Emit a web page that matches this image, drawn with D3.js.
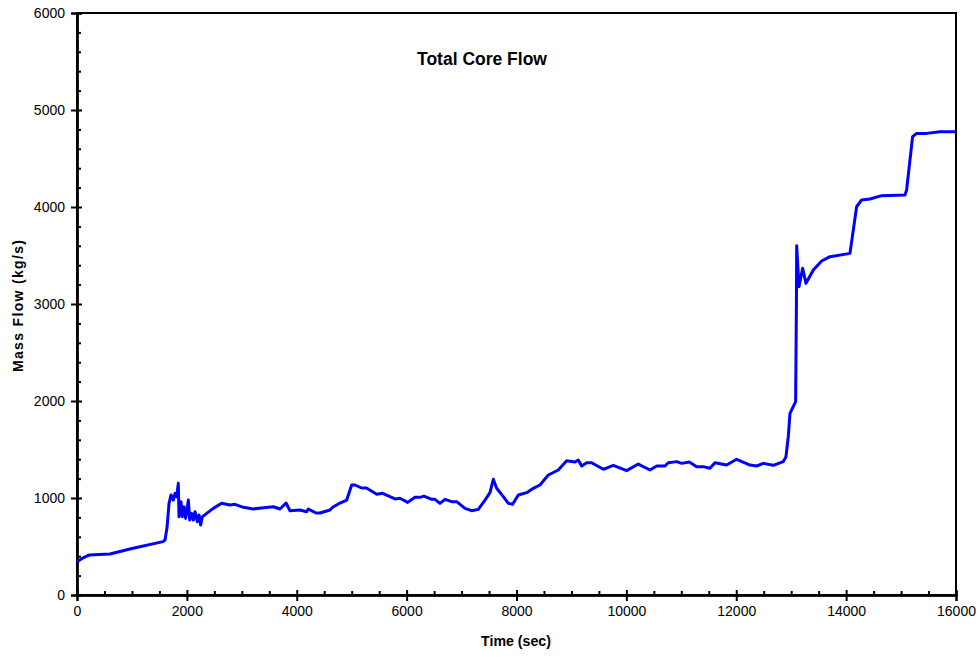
<!DOCTYPE html>
<html>
<head>
<meta charset="utf-8">
<script src="https://cdn.jsdelivr.net/npm/d3@7"></script>
<style>
  html, body { margin: 0; padding: 0; background: #fff; }
  svg { display: block; font-family: "Liberation Sans", Arial, sans-serif; }
</style>
</head>
<body>
<svg id="chart" width="980" height="657"></svg>
<script>
const chartTitle = 'Total Core Flow'
const xTitle = 'Time (sec)'
const yTitle = 'Mass Flow (kg/s)'

const xTicks = [0, 2000, 4000, 6000, 8000, 10000, 12000, 14000, 16000]
const yTicks = [0, 1000, 2000, 3000, 4000, 5000, 6000]

// time (s) and total core mass flow (kg/s)
const timeSec = [
  0, 100, 218, 600, 1000, 1565, 1602, 1640, 1675, 1711, 1753, 1784, 1814, 1844,
  1857, 1893, 1917, 1948, 1978, 2027, 2051, 2087, 2118, 2148, 2190, 2221, 2251,
  2281, 2361, 2481, 2633, 2785, 2876, 3028, 3210, 3400, 3574, 3695, 3805, 3877,
  4059, 4180, 4210, 4350, 4423, 4605, 4660, 4787, 4909, 5000, 5060, 5180, 5270,
  5455, 5564, 5788, 5879, 6019, 6152, 6243, 6316, 6456, 6516, 6607, 6698, 6820,
  6911, 7062, 7184, 7305, 7426, 7517, 7578, 7639, 7760, 7851, 7930, 8033, 8185,
  8306, 8427, 8579, 8761, 8913, 9064, 9125, 9186, 9277, 9368, 9580, 9762, 10005,
  10217, 10430, 10551, 10703, 10763, 10915, 11006, 11145, 11279, 11400, 11521,
  11612, 11825, 12007, 12250, 12371, 12492, 12674, 12856, 12905, 12947, 12978,
  13081, 13095, 13100, 13142, 13209, 13269, 13403, 13554, 13706, 14070, 14191,
  14282, 14434, 14647, 15071, 15101, 15210, 15283, 15465, 15707, 16000
]
const massFlow = [
  343, 380, 412, 423, 480, 550, 567, 700, 945, 1031, 979, 1048, 1014, 1151,
  807, 962, 807, 910, 790, 979, 773, 842, 773, 859, 756, 825, 722,
  807, 842, 893, 945, 928, 935, 904, 887, 900, 910, 887, 948, 869,
  876, 859, 887, 845, 845, 876, 907, 948, 979, 1134, 1134, 1103, 1103,
  1038, 1048, 990, 997, 955, 1007, 1007, 1020, 986, 986, 945, 986, 962,
  962, 893, 869, 883, 979, 1055, 1193, 1100, 1014, 945, 935, 1031, 1055,
  1100, 1134, 1237, 1289, 1385, 1371, 1392, 1330, 1364, 1364, 1296, 1337, 1282,
  1350, 1289, 1330, 1330, 1364, 1375, 1357, 1371, 1323, 1323, 1306,
  1364, 1340, 1399, 1340, 1330, 1357, 1337, 1375, 1426, 1632, 1873,
  1993, 3000, 3600, 3179, 3368, 3213, 3351, 3443, 3488, 3522, 4003,
  4072, 4082, 4117, 4124, 4175, 4725, 4759, 4759, 4776, 4776
]

const margin = {left: 77, top: 13, right: 24, bottom: 62}
const width = 980 - margin.left - margin.right
const height = 657 - margin.top - margin.bottom

const svg = d3.select('#chart')
const g = svg.append('g').attr('transform', `translate(${margin.left},${margin.top})`)

const x = d3.scaleLinear().domain([0, 16000]).range([0, width])
const y = d3.scaleLinear().domain([0, 6000]).range([height, 0])

const minorX = d3.range(0, 16001, 500).filter(v => v % 2000 !== 0)
const minorY = d3.range(0, 6001, 200).filter(v => v % 1000 !== 0)

// frame
g.append('rect')
  .attr('width', width).attr('height', height)
  .attr('fill', 'none').attr('stroke', '#000').attr('stroke-width', 2)

// x axis: labels + outward ticks, inward ticks, minor ticks
const xAxisG = g.append('g').attr('transform', `translate(0,${height})`)
xAxisG.append('g')
  .call(d3.axisBottom(x).tickValues(xTicks).tickSize(6).tickPadding(5).tickFormat(d3.format('d')))
xAxisG.append('g')
  .call(d3.axisBottom(x).tickValues(xTicks).tickSize(-5).tickFormat(''))
xAxisG.append('g')
  .call(d3.axisBottom(x).tickValues(minorX).tickSize(-4).tickFormat(''))

const yAxisG = g.append('g')
yAxisG.append('g')
  .call(d3.axisLeft(y).tickValues(yTicks).tickSize(6).tickPadding(6).tickFormat(d3.format('d')))
yAxisG.append('g')
  .call(d3.axisLeft(y).tickValues(yTicks).tickSize(-5).tickFormat(''))
yAxisG.append('g')
  .call(d3.axisLeft(y).tickValues(minorY).tickSize(-4).tickFormat(''))

svg.selectAll('.domain').attr('stroke', '#000').attr('stroke-width', 2)
svg.selectAll('.tick line').attr('stroke', '#000').attr('stroke-width', 2)
svg.selectAll('.tick text')
  .attr('font-family', '"Liberation Sans", Arial, sans-serif')
  .attr('font-size', 14).attr('fill', '#000')

// series
const series = timeSec.map((t, i) => ({t: t, v: massFlow[i]}))
const line = d3.line().x(d => x(d.t)).y(d => y(d.v))

g.append('path')
  .datum(series)
  .attr('d', line)
  .attr('fill', 'none')
  .attr('stroke', '#0000ff')
  .attr('stroke-width', 3)
  .attr('stroke-linejoin', 'round')

// titles
svg.append('text')
  .attr('x', 482).attr('y', 65)
  .attr('text-anchor', 'middle')
  .attr('font-size', 17.5).attr('font-weight', 'bold')
  .text(chartTitle)

svg.append('text')
  .attr('x', 516).attr('y', 646)
  .attr('text-anchor', 'middle')
  .attr('font-size', 14.2).attr('font-weight', 'bold')
  .text(xTitle)

svg.append('text')
  .attr('transform', `translate(23,306) rotate(-90)`)
  .attr('text-anchor', 'middle')
  .attr('font-size', 14).attr('font-weight', 'bold')
  .attr('textLength', 132).attr('lengthAdjust', 'spacing')
  .text(yTitle)
</script>
</body>
</html>
